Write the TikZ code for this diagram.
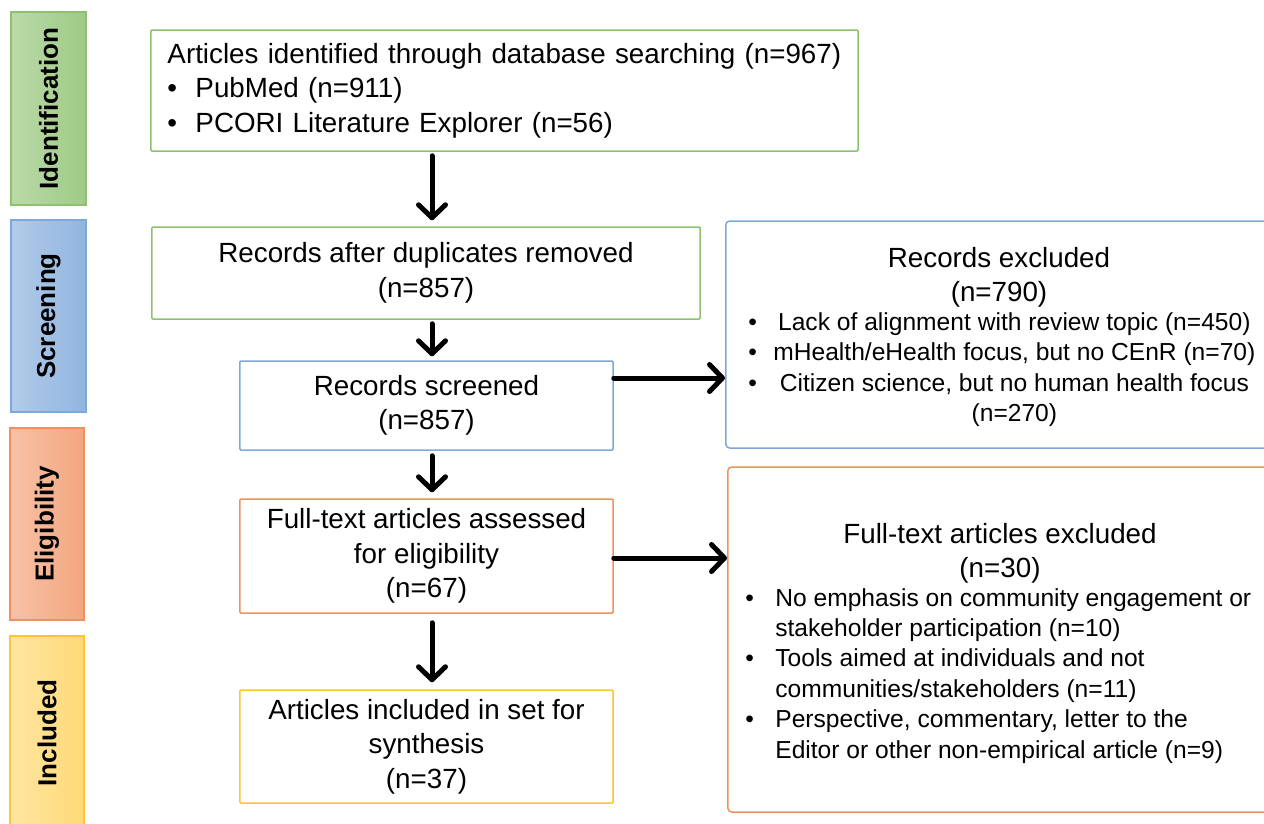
\documentclass[tikz,border=0pt]{standalone}
\usepackage{fontspec}
\setmainfont{Liberation Sans}
\usepackage{graphicx}
\usetikzlibrary{arrows.meta}

\definecolor{idgreen}{HTML}{8DC16F}
\definecolor{scblue}{HTML}{7EA8DA}
\definecolor{elorange}{HTML}{F0905F}
\definecolor{inyellow}{HTML}{FFC52F}

\tikzset{
  phase/.style={draw, line width=0.3mm, minimum width=15mm, inner sep=0pt,
    font=\fontsize{14.8}{17}\selectfont\bfseries},
  flowbox/.style={draw, line width=0.3mm, rounded corners=0.2mm, align=center,
    font=\fontsize{15.8}{19.6}\selectfont},
  sidebox/.style={draw, line width=0.3mm, rounded corners=0.8mm, minimum width=110mm},
  arr/.style={line width=1mm, -{Straight Barb[length=2.6mm,width=5.4mm,round]},
    line cap=round},
  bigtext/.style={align=center, font=\fontsize{15.8}{19.3}\selectfont},
  smalltext/.style={inner sep=0pt, font=\fontsize{14}{17.3}\selectfont}
}

\begin{document}
\begin{tikzpicture}[x=0.2mm, y=-0.2mm]
\useasboundingbox (0,0) rectangle (1264,823);
\clip (0,0) rectangle (1264,823);

% Phase labels
\node[phase, minimum height=38.6mm, left color=idgreen!60, right color=idgreen!85,
  draw=idgreen] (ident-lab) at (48.5,108.5) {\rotatebox{90}{Identification}};
\node[phase, minimum height=38.4mm, left color=scblue!60, right color=scblue!85,
  draw=scblue] (screen-lab) at (48.5,316) {\rotatebox{90}{Screening}};
\node[phase, minimum width=14.8mm, minimum height=38.4mm, left color=elorange!55,
  right color=elorange!80, draw=elorange] (elig-lab) at (47,524) {\rotatebox{90}{Eligibility}};
\node[phase, minimum width=14.8mm, minimum height=38.8mm, left color=inyellow!45,
  right color=inyellow!65, draw=inyellow] (incl-lab) at (47,733) {\rotatebox{90}{Included}};

% Main column
\node[flowbox, draw=idgreen, align=left, text width=137.6mm, inner xsep=1.9mm,
  minimum height=24.2mm] (ident) at (504.5,90.5)
  {\hspace*{1.4mm}Articles identified through database searching (n=967)\\
   \hspace*{1.4mm}\makebox[5.6mm][l]{\textbullet}PubMed (n=911)\\
   \hspace*{1.4mm}\makebox[5.6mm][l]{\textbullet}PCORI Literature Explorer (n=56)};
\node[flowbox, draw=idgreen, minimum width=109.6mm, minimum height=18.4mm]
  (dedup) at (426,273) {Records after duplicates removed\\(n=857)};
\node[flowbox, draw=scblue, minimum width=74.6mm, minimum height=17.8mm]
  (screened) at (426.5,405.5) {Records screened\\(n=857)};
\node[flowbox, draw=elorange, minimum width=74.6mm, minimum height=22.8mm]
  (assessed) at (426.5,556) {Full-text articles assessed\\for eligibility\\(n=67)};
\node[flowbox, draw=inyellow, minimum width=74.6mm, minimum height=22.6mm]
  (included) at (426.5,746.5) {Articles included in set for\\synthesis\\(n=37)};

% Exclusion boxes
\node[sidebox, draw=scblue, minimum height=45.4mm, anchor=west]
  (recexcl) at (725,334.5) {};
\node[bigtext] (recexcl-title) at (999,277) {Records excluded\\(n=790)};
\node[smalltext, anchor=west] (recexcl-list) at (748,370) {%
  \begin{tabular}{@{}p{5mm}@{}c@{}}
  \textbullet & Lack of alignment with review topic (n=450)\\
  \textbullet & mHealth/eHealth focus, but no CEnR (n=70)\\
  \textbullet & Citizen science, but no human health focus\\
              & (n=270)
  \end{tabular}};

\node[sidebox, draw=elorange, minimum height=69mm, anchor=west]
  (ftexcl) at (727,639.5) {};
\node[bigtext] (ftexcl-title) at (1000,553) {Full-text articles excluded\\(n=30)};
\node[smalltext, anchor=west] (ftexcl-list) at (745,676) {%
  \begin{tabular}{@{}p{6mm}@{}l@{}}
  \textbullet & No emphasis on community engagement or\\
              & stakeholder participation (n=10)\\
  \textbullet & Tools aimed at individuals and not\\
              & communities/stakeholders (n=11)\\
  \textbullet & Perspective, commentary, letter to the\\
              & Editor or other non-empirical article (n=9)
  \end{tabular}};

% Arrows
\coordinate (axis) at (432,0);
\coordinate (row1) at (0,378);
\draw[arr, shorten <=0.8mm, shorten >=1.2mm] (ident.south -| axis) -- (dedup.north -| axis);
\draw[arr, shorten <=0.8mm, shorten >=0.8mm] (dedup.south -| axis) -- (screened.north -| axis);
\draw[arr, shorten <=1mm, shorten >=1.2mm] (screened.south -| axis) -- (assessed.north -| axis);
\draw[arr, shorten <=1.8mm, shorten >=1.4mm] (assessed.south -| axis) -- (included.north -| axis);
\draw[arr] (screened.east |- row1) -- (recexcl.west |- row1);
\draw[arr] (assessed.east) ++(0,2) coordinate (a2) -- (a2 -| ftexcl.west);
\end{tikzpicture}
\end{document}
